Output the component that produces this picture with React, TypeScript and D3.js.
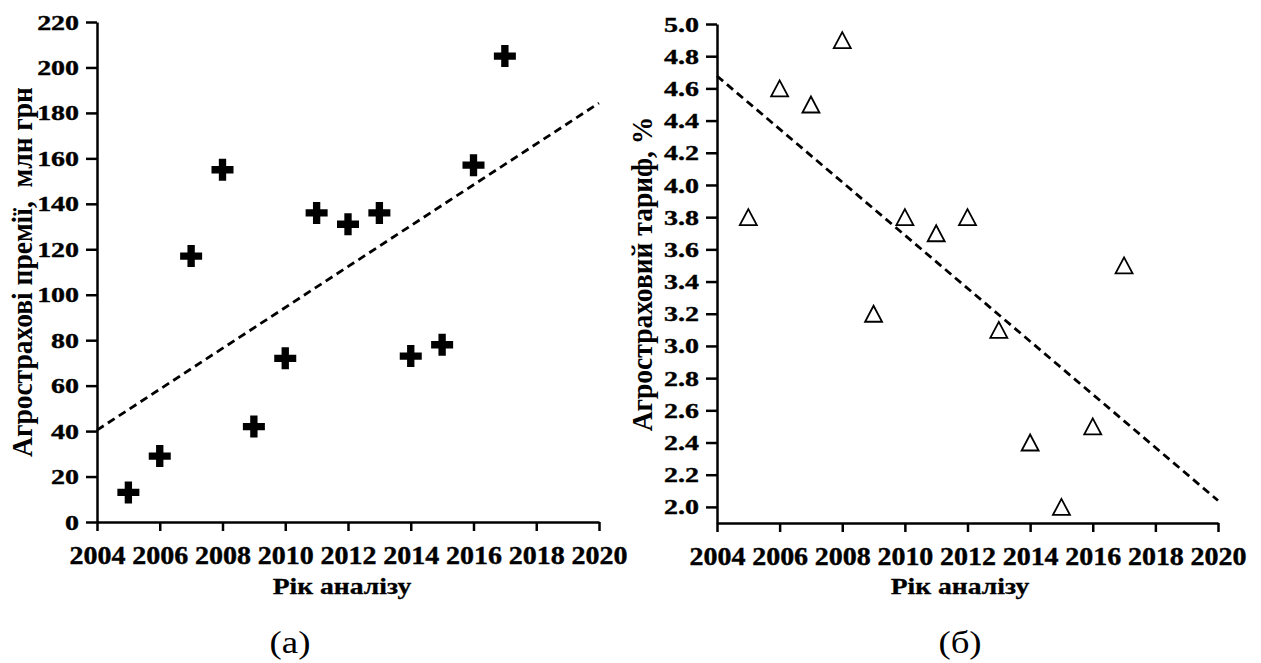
import React, { useEffect, useRef } from 'react';
import * as d3 from 'd3';

// data
const years = [2005, 2006, 2007, 2008, 2009, 2010, 2011, 2012, 2013, 2014, 2015, 2016, 2017];
const premiums = [13, 29, 117, 155, 42, 72, 136, 131, 136, 73, 78, 157, 205];
const tariffs = [3.8, 4.6, 4.5, 4.9, 3.2, 3.8, 3.7, 3.8, 3.1, 2.4, 2.0, 2.5, 3.5];

const yearTicks = [2004, 2006, 2008, 2010, 2012, 2014, 2016, 2018, 2020];
const premiumTicks = [0, 20, 40, 60, 80, 100, 120, 140, 160, 180, 200, 220];
const tariffTicks = [2.0, 2.2, 2.4, 2.6, 2.8, 3.0, 3.2, 3.4, 3.6, 3.8, 4.0, 4.2, 4.4, 4.6, 4.8, 5.0];

const FONT = '"Liberation Serif", "Times New Roman", serif';

// least squares trend
const trend = (xs: number[], ys: number[]) => {
  const mx = d3.mean(xs) as number;
  const my = d3.mean(ys) as number;
  let sxy = 0, sxx = 0;
  xs.forEach((x, i) => { sxy += (x - mx) * (ys[i] - my); sxx += (x - mx) * (x - mx); });
  const b = sxy / sxx;
  return (x: number) => my + b * (x - mx);
};

const drawPanel = (svg: any, opts: any) => {
  const x = d3.scaleLinear().domain([2004, 2020]).range([opts.left, opts.right]);
  const y = d3.scaleLinear().domain(opts.yDomain).range([opts.bottom, opts.top]);
  const g = svg.append('g');

  // y axis
  const ya = g.append('g')
    .attr('transform', 'translate(' + opts.left + ',0)')
    .call(d3.axisLeft(y).tickValues(opts.yTicks).tickSize(11).tickSizeOuter(0).tickFormat(opts.yFormat));
  ya.selectAll('text')
    .attr('x', 0)
    .attr('transform', 'translate(-18,0) scale(1.27,1)')
    .style('font-family', FONT).style('font-size', '22px').style('font-weight', 'bold')
    .attr('fill', '#000').attr('stroke', '#000').attr('stroke-width', 0.4);

  // x axis
  const xa = g.append('g')
    .attr('transform', 'translate(0,' + opts.bottom + ')')
    .call(d3.axisBottom(x).tickValues(yearTicks).tickSize(9).tickSizeOuter(0).tickFormat(d3.format('d')));
  xa.selectAll('text')
    .attr('y', 0)
    .attr('transform', 'translate(0,24) scale(1.12,1)')
    .style('font-family', FONT).style('font-size', '25px').style('font-weight', 'bold')
    .attr('fill', '#000').attr('stroke', '#000').attr('stroke-width', 0.4);

  g.selectAll('.domain').attr('stroke', '#000').attr('stroke-width', 2.5);
  g.selectAll('.tick line').attr('stroke', '#000').attr('stroke-width', 2.5);

  // trend line
  const f = trend(years, opts.values);
  const line = d3.line<number>().x((d) => x(d)).y((d) => y(f(d)));
  g.append('path')
    .datum([2004, 2020])
    .attr('d', line)
    .attr('fill', 'none')
    .attr('stroke', '#000')
    .attr('stroke-width', 2.8)
    .attr('stroke-dasharray', '8,5');

  // markers
  g.selectAll('.pt')
    .data(years)
    .enter().append('path')
    .attr('class', 'pt')
    .attr('transform', (d: number, i: number) => 'translate(' + x(d) + ',' + y(opts.values[i]) + ')')
    .attr('d', opts.marker)
    .attr('fill', opts.markerFill)
    .attr('stroke', opts.markerStroke)
    .attr('stroke-width', 1.8);

  // axis titles
  g.append('text')
    .attr('transform', 'translate(' + opts.yLabelX + ',' + opts.yLabelY + ') scale(1.1,1) rotate(-90)')
    .attr('text-anchor', 'middle')
    .style('font-family', FONT).style('font-size', opts.yLabelSize + 'px').style('font-weight', 'bold')
    .style('white-space', 'pre')
    .text(opts.yLabel);

  g.append('text')
    .attr('transform', 'translate(' + opts.xLabelX + ',594) scale(1.2,1)')
    .attr('text-anchor', 'middle')
    .style('font-family', FONT).style('font-size', '23px').style('font-weight', 'bold')
    .attr('stroke', '#000').attr('stroke-width', 0.3)
    .text('Рік аналізу');

  g.append('text')
    .attr('transform', 'translate(' + opts.capX + ',653) scale(1.15,1)')
    .attr('text-anchor', 'middle')
    .style('font-family', FONT).style('font-size', '32px')
    .text(opts.caption);
};

const trianglePath = () => {
  const p = d3.path();
  p.moveTo(0, -8);
  p.lineTo(8.5, 8);
  p.lineTo(-8.5, 8);
  p.closePath();
  return p.toString();
};

export default function App() {
  const ref = useRef<SVGSVGElement>(null);

  useEffect(() => {
    const svg = d3.select(ref.current);
    svg.selectAll('*').remove();

    drawPanel(svg, {
      left: 97, right: 599, top: 22, bottom: 522,
      yDomain: [0, 220], yTicks: premiumTicks, yFormat: d3.format('d'),
      values: premiums,
      marker: d3.symbol(d3.symbolCross, 269)(),
      markerFill: '#000', markerStroke: 'none',
      yLabel: 'Агрострахові премії,  млн грн', yLabelX: 32, yLabelY: 272, yLabelSize: 27.5,
      xLabelX: 342, capX: 290, caption: '(а)'
    });

    drawPanel(svg, {
      left: 717, right: 1218, top: 24, bottom: 523,
      yDomain: [1.9, 5.0], yTicks: tariffTicks, yFormat: d3.format('.1f'),
      values: tariffs,
      marker: trianglePath(),
      markerFill: 'none', markerStroke: '#000',
      yLabel: 'Агростраховий тариф, %', yLabelX: 652, yLabelY: 274, yLabelSize: 27.5,
      xLabelX: 960, capX: 960, caption: '(б)'
    });
  }, []);

  return (
    <div style={{ position: 'absolute', left: 0, top: 0 }}>
      <svg ref={ref} width={1261} height={663} style={{ display: 'block', background: '#fff' }} />
    </div>
  );
}
